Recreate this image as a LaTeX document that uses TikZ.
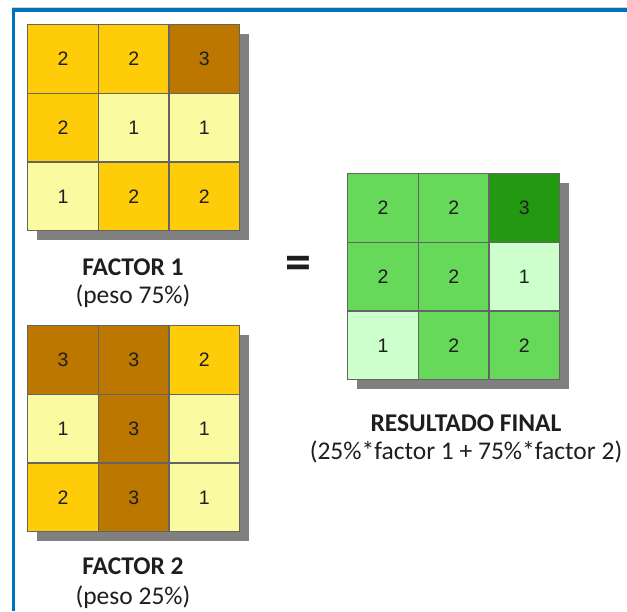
\documentclass[tikz,border=0pt]{standalone}
\usepackage{fontspec}
\setmainfont{Carlito}
\newfontfamily\cellfont{Liberation Sans}
\definecolor{brownc}{RGB}{187,119,0}
\definecolor{goldc}{RGB}{255,204,10}
\definecolor{paleyel}{RGB}{250,250,160}
\definecolor{midgreen}{RGB}{102,217,90}
\definecolor{darkgreen}{RGB}{34,153,17}
\definecolor{palegreen}{RGB}{204,255,204}
\definecolor{gridline}{RGB}{100,100,100}
\definecolor{shadowgray}{RGB}{128,128,128}
\definecolor{frameblue}{RGB}{0,112,192}
\definecolor{txt}{RGB}{30,30,30}
\begin{document}
\begin{tikzpicture}[x=1pt,y=-1pt,
  cell/.style={draw=gridline, line width=1.3pt, minimum width=70.7pt, minimum height=68.7pt,
    inner sep=0pt, anchor=north west, text=txt, font=\cellfont\fontsize{19.5}{19.5}\selectfont},
  shadowbox/.style={fill=shadowgray, draw=none},
  title/.style={font=\bfseries\fontsize{25.5}{27}\selectfont, text=txt, inner sep=0pt},
  sub/.style={font=\fontsize{25.5}{27}\selectfont, text=txt, inner sep=0pt}]
\useasboundingbox (0,0) rectangle (627,611);
% frame
\draw[gray!35, line width=0.8pt] (12,7) -- (627,7);
\draw[frameblue, line width=3.4pt] (13.5,611) -- (13.5,9.8) -- (627,9.8);
% shadows
\fill[shadowgray] (37,34) rectangle (249,240);
\fill[shadowgray] (37,335) rectangle (249,541);
\fill[shadowgray] (357,183) rectangle (569,389);
% factor 1
\foreach \v/\c [count=\i from 0, evaluate=\i as \cx using {27+70.7*mod(\i,3)}, evaluate=\i as \cy using {24+68.7*int(\i/3)}] in
  {2/goldc,2/goldc,3/brownc,2/goldc,1/paleyel,1/paleyel,1/paleyel,2/goldc,2/goldc}
  \node[cell, fill=\c] (fa\i) at (\cx,\cy) {\v};
% factor 2
\foreach \v/\c [count=\i from 0, evaluate=\i as \cx using {27+70.7*mod(\i,3)}, evaluate=\i as \cy using {325+68.7*int(\i/3)}] in
  {3/brownc,3/brownc,2/goldc,1/paleyel,3/brownc,1/paleyel,2/goldc,3/brownc,1/paleyel}
  \node[cell, fill=\c] (fb\i) at (\cx,\cy) {\v};
% result
\foreach \v/\c [count=\i from 0, evaluate=\i as \cx using {347+70.7*mod(\i,3)}, evaluate=\i as \cy using {173+68.7*int(\i/3)}] in
  {2/midgreen,2/midgreen,3/darkgreen,2/midgreen,2/midgreen,1/palegreen,1/palegreen,2/midgreen,2/midgreen}
  \node[cell, fill=\c] (fr\i) at (\cx,\cy) {\v};
% labels
\node[title] (t1) at (133,267) {FACTOR 1};
\node[sub] (s1) at (133,296) {(peso 75\%)};
\node[title] (t2) at (133,566) {FACTOR 2};
\node[sub] (s2) at (133,597) {(peso 25\%)};
\node[title] (t3) at (466,423) {RESULTADO FINAL};
\node[sub] (s3) at (466,452) {(25\%*factor 1 + 75\%*factor 2)};
\node[font=\bfseries\fontsize{52}{52}\selectfont, text=txt, inner sep=0pt] (eq) at (298,268) {=};
\end{tikzpicture}
\end{document}
